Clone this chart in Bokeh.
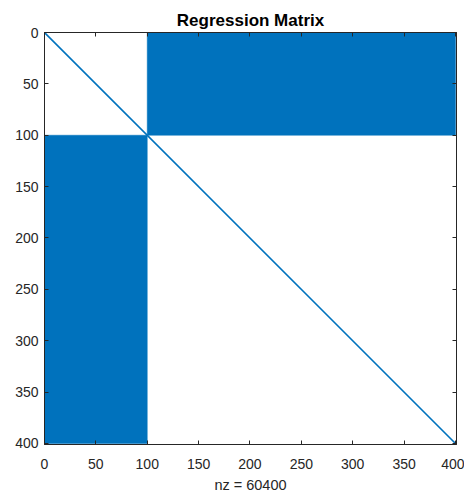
from bokeh.plotting import figure
from bokeh.models import Range1d, LinearAxis, FixedTicker
from bokeh.embed import file_html
from bokeh.resources import INLINE

# Matrix structure (400 x 400)
n = 400
block_left = [100, 0]
block_right = [400, 100]
block_top = [0, 100]
block_bottom = [100, 400]
diag_x = [0, 400]
diag_y = [0, 400]
ticks = [0, 50, 100, 150, 200, 250, 300, 350, 400]
nz_label = "nz = 60400"
title = "Regression Matrix"

blue = "#0072BD"
font = "Liberation Sans"

p = figure(width=464, height=496, output_backend="svg", toolbar_location=None,
           x_range=Range1d(0, n + 1), y_range=Range1d(n + 1, 0),
           min_border_left=44, min_border_right=8, min_border_top=32, min_border_bottom=52,
           title=title)
p.title.align = "center"
p.title.text_font = font
p.title.text_font_size = "17px"
p.title.text_font_style = "bold"
p.title.text_color = "#000000"
p.title.standoff = 5

p.quad(left=block_left, right=block_right, top=block_top, bottom=block_bottom,
       fill_color=blue, line_color=blue, line_width=0.5)
p.line(diag_x, diag_y, line_color=blue, line_width=1.6)

p.grid.visible = False
p.outline_line_color = "#262626"
p.xaxis.axis_label = nz_label

for ax in [p.xaxis[0], p.yaxis[0]]:
    ax.ticker = FixedTicker(ticks=ticks)
    ax.major_tick_in = 4
    ax.major_tick_out = 0
    ax.minor_tick_line_color = None
    ax.axis_line_color = "#262626"
    ax.major_tick_line_color = "#262626"
    ax.major_label_text_font = font
    ax.major_label_text_font_size = "14px"
    ax.major_label_text_color = "#262626"
    ax.axis_label_text_font = font
    ax.axis_label_text_font_size = "14.5px"
    ax.axis_label_text_font_style = "normal"
    ax.axis_label_text_color = "#262626"
p.yaxis.major_label_standoff = 6
p.xaxis.major_label_standoff = 14
p.xaxis.axis_label_standoff = 5

for loc in ["above", "right"]:
    ax = LinearAxis(ticker=FixedTicker(ticks=ticks),
                    major_label_overrides={t: "" for t in ticks},
                    major_tick_in=4, major_tick_out=0, minor_tick_line_color=None,
                    axis_line_color="#262626", major_tick_line_color="#262626",
                    major_label_standoff=0)
    p.add_layout(ax, loc)

open("out.html", "w").write(file_html(p, INLINE))
